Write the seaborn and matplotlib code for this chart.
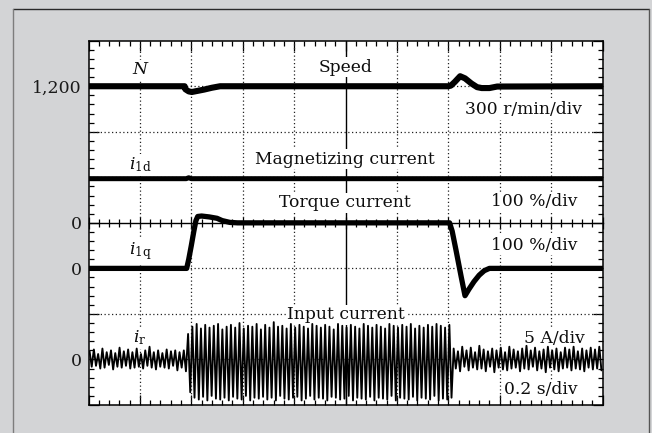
import numpy as np
import matplotlib
matplotlib.use("Agg")
import matplotlib.pyplot as plt
import seaborn as sns
from matplotlib.ticker import MultipleLocator, NullFormatter, FixedLocator
from matplotlib.lines import Line2D

# ---------------- data ----------------
# time in seconds (0.2 s/div, 10 div)
speed_t = [0.0, 0.374, 0.377, 0.39, 0.402, 0.42, 0.45, 0.48, 0.512, 1.40, 1.41,
           1.425, 1.446, 1.465, 1.49, 1.512, 1.53, 1.56, 1.59, 2.0]
speed_v = [1200, 1200, 1180, 1166, 1162, 1168, 1178, 1190, 1200, 1200, 1204,
           1228, 1266, 1252, 1218, 1194, 1188, 1188, 1198, 1200]          # r/min

i1d_t = [0.0, 0.38, 0.39, 0.40, 2.0]
i1d_v = [97, 97, 99, 97, 97]                                               # %

i1q_t = [0.0, 0.382, 0.39, 0.40, 0.41, 0.418, 0.425, 0.44, 0.47, 0.50, 0.52,
         0.55, 0.58, 1.405, 1.415, 1.43, 1.45, 1.465, 1.48, 1.50, 1.52, 1.54, 1.56, 2.0]
i1q_v = [0, 0, 20, 50, 82, 105, 114, 115, 113, 110, 105,
         101, 100, 100, 82, 40, -18, -60, -46, -29, -15, -5, 0, 0]         # %

# input current: one peak value per half cycle of the 60 Hz supply (A)
ir_pre = [0.9, -0.8, 1.1, -0.7, 0.6, -1.0, 1.2, -0.9, 0.8, -0.6, 1.0, -1.1, 0.7, -0.8, 1.3, -0.9, 0.9, -0.7, 1.1, -1.0,
          0.8, -0.9, 1.2, -0.8, 0.6, -1.0, 1.0, -0.7, 1.4, -0.9, 0.8, -1.1, 1.0, -0.8, 0.7, -0.9, 1.1, -1.0, 0.9, -0.7,
          1.0, -1.2, 0.8, -0.9, 1.0, -1.3]
ir_load = [2.8, -3.6, 3.6, -4.2, 3.9, -4.4, 3.4, -4.1, 3.8, -4.5, 3.5, -4.0, 3.7, -4.3, 3.9, -4.4, 3.3, -4.2, 3.6, -4.5,
           3.8, -4.1, 3.5, -4.3, 4.0, -4.4, 3.4, -4.0, 3.7, -4.5, 3.6, -4.2, 3.9, -4.3, 3.3, -4.1, 3.8, -4.4, 3.5, -4.2,
           4.1, -4.5, 3.6, -4.0, 3.7, -4.3, 3.4, -4.4, 3.9, -4.2, 3.5, -4.1, 3.8, -4.5, 3.6, -4.3, 3.4, -4.0, 3.9, -4.4,
           3.7, -4.2, 3.5, -4.3, 3.8, -4.5, 3.6, -4.1, 3.3, -4.2, 3.9, -4.4, 3.7, -4.3, 3.5, -4.0, 3.8, -4.5, 3.6, -4.2,
           3.4, -4.3, 3.9, -4.4, 3.7, -4.1, 3.5, -4.5, 3.8, -4.2, 3.6, -4.3, 3.4, -4.4, 3.9, -4.0, 3.7, -4.5, 3.5, -4.2,
           3.8, -4.3, 3.6, -4.4, 3.9, -4.1, 3.4, -4.5, 3.7, -4.2, 3.5, -4.3, 3.8, -4.4, 3.6, -4.0, 3.9, -4.5, 3.7, -4.3,
           3.5, -4.4, 3.8, -4.2]
ir_post = [1.2, -1.0, 0.9, -1.3, 1.4, -0.8, 1.0, -1.2, 1.3, -0.9, 0.8, -1.1, 1.5, -1.0, 1.1, -1.3, 0.9, -0.8, 1.2, -1.4,
           1.0, -0.9, 1.3, -1.1, 0.8, -1.2, 1.4, -1.0, 1.1, -0.9, 0.9, -1.3, 1.2, -1.0, 1.5, -1.1, 1.0, -0.8, 1.3, -1.2,
           0.9, -1.0, 1.1, -1.4, 1.4, -0.9, 1.0, -1.1, 1.2, -1.3, 0.8, -1.0, 1.3, -0.9, 1.1, -1.2, 1.4, -1.0, 0.9, -1.1,
           1.2, -1.3, 1.0, -0.9, 1.3, -1.1, 1.1, -1.0, 1.4, -1.2]
ir_v = ir_pre + ir_load + ir_post
ir_t = (np.arange(len(ir_v)) + 0.5) / 120.0

ytick_pos = [0, 1, 2, 3, 4, 5, 6, 7, 8]
ytick_lab = ["", "0", "", "0", "0", "", "", "1,200", ""]

# ---------------- figure ----------------
sns.set_theme(style="white")
plt.rcParams["font.family"] = ["DejaVu Serif"]
plt.rcParams["mathtext.fontset"] = "dejavuserif"

W, H = 652, 433
fig = plt.figure(figsize=(W / 100, H / 100), dpi=100, facecolor="#d3d4d6")
L, R, T, B = 88.5, 602.5, 40.7, 405.0
ax = fig.add_axes([L / W, (H - B) / H, (R - L) / W, (B - T) / H])
ax.set_facecolor("white")
ax.set_xlim(0, 2.0)
ax.set_ylim(0, 8)

# scope graticule
for k in range(1, 10):
    if k != 5:
        ax.axvline(k * 0.2, color="#222", lw=0.9, ls=(0, (1, 2)), zorder=1)
for k in range(1, 8):
    if k != 4:
        ax.axhline(k, color="#222", lw=0.9, ls=(0, (1, 2)), zorder=1)
ax.axvline(1.0, color="black", lw=1.0, zorder=1)

sec = ax.secondary_xaxis(0.5)
sec.xaxis.set_major_locator(MultipleLocator(0.2))
sec.xaxis.set_minor_locator(MultipleLocator(0.04))
sec.xaxis.set_major_formatter(NullFormatter())
sec.tick_params(which="major", direction="inout", length=9, width=0.9, color="black")
sec.tick_params(which="minor", direction="inout", length=6, width=0.9, color="black")
for s in sec.spines.values():
    s.set_linewidth(1.0)
    s.set_color("black")

# traces, each drawn at its own zero level on the 8-division screen
sns.lineplot(x=speed_t, y=7 + (np.array(speed_v) - 1200) / 300.0, ax=ax, color="black",
             lw=4.4, estimator=None, sort=False, zorder=5)
sns.lineplot(x=i1d_t, y=4 + np.array(i1d_v) / 100.0, ax=ax, color="black",
             lw=3.6, estimator=None, sort=False, zorder=5)
sns.lineplot(x=i1q_t, y=3 + np.array(i1q_v) / 100.0, ax=ax, color="black",
             lw=3.8, estimator=None, sort=False, zorder=5)
sns.lineplot(x=ir_t, y=1 + np.array(ir_v) / 5.0, ax=ax, color="black",
             lw=1.35, estimator=None, sort=False, zorder=5)

# ticks on the frame
ax.xaxis.set_major_locator(MultipleLocator(0.2))
ax.xaxis.set_minor_locator(MultipleLocator(0.04))
ax.yaxis.set_major_locator(FixedLocator(ytick_pos))
ax.yaxis.set_minor_locator(MultipleLocator(0.2))
ax.set_yticklabels(ytick_lab)
ax.set_xticklabels([])
ax.tick_params(which="major", direction="in", length=7, width=0.9, color="black",
               top=True, right=True, bottom=True, left=True, labelsize=12.5, pad=5,
               labelcolor="#1a1a1a")
ax.tick_params(which="minor", direction="in", length=3.5, width=0.9, color="black",
               top=True, right=True, bottom=True, left=True)
for s in ax.spines.values():
    s.set_color("black")
    s.set_linewidth(1.1)
    s.set_zorder(6)
ax.set_xlabel("")
ax.set_ylabel("")

box = dict(facecolor="white", edgecolor="none", pad=1.0)
fs = 12.3
txt = dict(fontsize=fs, color="#0d0d0d", va="center", zorder=4, bbox=box)
ax.text(0.200, 7.36, "N", ha="center", style="italic", **txt)
ax.text(1.002, 7.42, "Speed", ha="center", **txt)
ax.text(1.920, 6.48, "300 r/min/div", ha="right", **txt)
ax.text(0.200, 5.27, r"$i_{\mathrm{1d}}$", ha="center", **txt)
ax.text(0.998, 5.40, "Magnetizing current", ha="center", **txt)
ax.text(1.901, 4.46, "100 %/div", ha="right", **txt)
ax.text(0.998, 4.44, "Torque current", ha="center", **txt)
ax.text(1.901, 3.51, "100 %/div", ha="right", **txt)
ax.text(0.200, 3.38, r"$i_{\mathrm{1q}}$", ha="center", **txt)
ax.text(1.002, 1.98, "Input current", ha="center", **txt)
ax.text(0.200, 1.47, r"$i_{\mathrm{r}}$", ha="center", **txt)
ax.text(1.932, 1.45, "5 A/div", ha="right", **txt)
ax.text(1.901, 0.33, "0.2 s/div", ha="right", **txt)

# outer frame of the figure panel
fig.add_artist(Line2D([13 / W, 649 / W], [1 - 9.3 / H, 1 - 9.3 / H], transform=fig.transFigure,
                      color="#2a2a2a", lw=1.0))
fig.add_artist(Line2D([13.3 / W, 13.3 / W], [0, 1 - 9.3 / H], transform=fig.transFigure,
                      color="#7d7d7d", lw=1.0))
fig.add_artist(Line2D([649 / W, 649 / W], [0, 1 - 9.3 / H], transform=fig.transFigure,
                      color="#555555", lw=1.0))

fig.savefig("out.png", dpi=100, facecolor=fig.get_facecolor())
